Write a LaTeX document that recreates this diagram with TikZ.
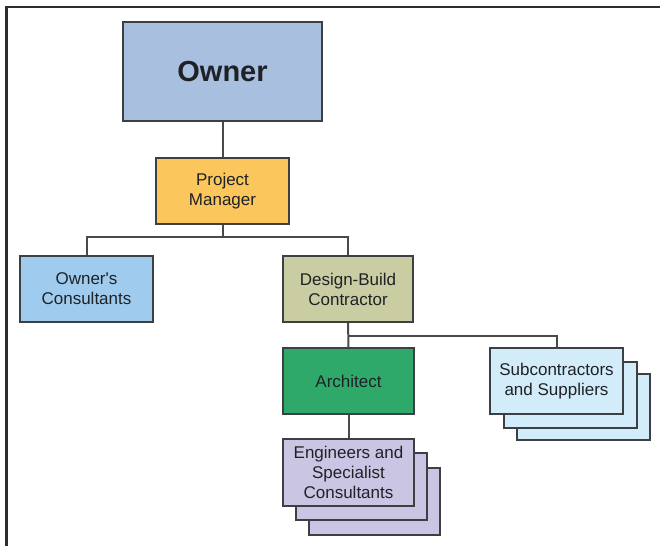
\documentclass[tikz,border=0pt]{standalone}
\usepackage{fontspec}
\setmainfont{Liberation Sans}
\definecolor{edge}{HTML}{3C3F44}
\definecolor{frame}{HTML}{2E2E2E}
\definecolor{wire}{HTML}{4A4A4A}
\definecolor{ink}{HTML}{1E2226}
\definecolor{ownerfill}{HTML}{A9BFE0}
\definecolor{pmfill}{HTML}{FBC75C}
\definecolor{ocfill}{HTML}{9FCBEE}
\definecolor{dbfill}{HTML}{CACDA2}
\definecolor{archfill}{HTML}{2FA96A}
\definecolor{subfill}{HTML}{D3ECFA}
\definecolor{engfill}{HTML}{CBC5E4}
\tikzset{
  box/.style={draw=edge, line width=2pt, minimum width=133pt, minimum height=66pt,
    inner sep=0pt, align=center, text=ink,
    font=\fontsize{17}{20}\selectfont},
  link/.style={draw=wire, line width=2pt},
}
\begin{document}
\begin{tikzpicture}[x=1pt, y=-1pt]
  \useasboundingbox (0,0) rectangle (660,546);
  % page frame (top and left edges only)
  \draw[color=frame, line width=2.2pt] (660,7) -- (6.5,7) -- (6.5,546);

  % top of the chart
  \node[box, fill=ownerfill, minimum width=199pt, minimum height=99pt,
        font=\fontsize{29}{34}\selectfont\bfseries] (owner) at (222.5,71.5) {Owner};
  \node[box, fill=pmfill] (pm) at (222.5,191) {Project\\Manager};

  % second level
  \node[box, fill=ocfill] (oc) at (86.5,289) {Owner\textquotesingle s\\Consultants};
  \node[box, fill=dbfill, minimum width=130pt] (db) at (348,289) {Design-Build\\Contractor};

  % third level
  \node[box, fill=archfill, minimum width=131pt] (arch) at (348.5,381) {Architect};
  \node[box, fill=subfill] (sub3) at (583.5,407) {};
  \node[box, fill=subfill] (sub2) at (570.5,394.5) {};
  \node[box, fill=subfill] (sub) at (556.5,381) {Subcontractors\\and Suppliers};

  % fourth level
  \node[box, fill=engfill, minimum width=131pt, minimum height=67pt] (eng3) at (374,501) {};
  \node[box, fill=engfill, minimum width=131pt, minimum height=67pt] (eng2) at (361,486.5) {};
  \node[box, fill=engfill, minimum width=131pt, minimum height=67pt] (eng) at (348.5,472.5) {Engineers and\\Specialist\\Consultants};

  % connectors
  \coordinate (busA) at (222.5,237);
  \coordinate (busB) at (348,336);
  \draw[link] (owner) -- (pm);
  \draw[link] (pm) -- (busA);
  \draw[link] (oc.north) -- (oc.north |- busA) -- (db.north |- busA) -- (db.north);
  \draw[link] (db) -- (arch);
  \draw[link] (busB) -- (sub.north |- busB) -- (sub.north);
  \draw[link] (arch) -- (eng);
\end{tikzpicture}
\end{document}
